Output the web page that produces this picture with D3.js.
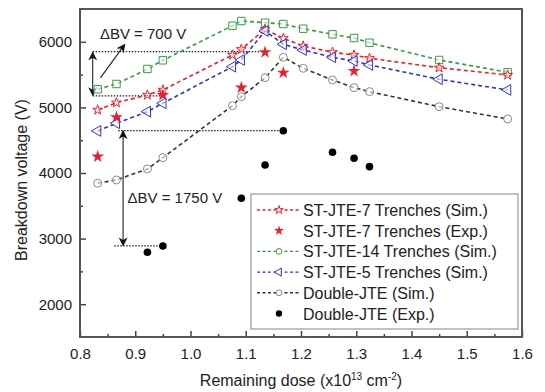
<!DOCTYPE html>
<html lang="en">
<head>
    <meta charset="UTF-8">
    <title>Breakdown voltage</title>
    <script src="https://d3js.org/d3.v7.min.js"></script>
    <style>
        html, body {
            margin: 0;
            background: #fff;
        }
        text {
            font-family: "Liberation Sans", Arial, sans-serif;
            fill: #222;
        }
    </style>
</head>
<body>
<div id="vis"></div>
<script>
// remaining dose (x1e13 cm^-2) of the simulated points
var doseSim = [0.832, 0.866, 0.922, 0.950, 1.076, 1.092, 1.135, 1.168, 1.204, 1.257, 1.296, 1.324, 1.450, 1.574];
var st7Sim = [4961, 5072, 5189, 5266, 5799, 5886, 6191, 6053, 5936, 5840, 5799, 5749, 5605, 5494];
var st14Sim = [5276, 5357, 5586, 5718, 6245, 6317, 6291, 6271, 6200, 6114, 6058, 5986, 5723, 5535];
var st5Sim = [4641, 4758, 4935, 5063, 5621, 5723, 6165, 5962, 5875, 5764, 5708, 5647, 5429, 5266];
var djteSim = [3844, 3894, 4062, 4234, 5026, 5163, 5453, 5764, 5596, 5418, 5301, 5240, 5011, 4824];

var st7ExpDose = [0.832, 0.866, 0.950, 1.092, 1.135, 1.168, 1.296];
var st7Exp = [4249, 4850, 5189, 5301, 5840, 5529, 5555];
var djteExpDose = [0.922, 0.950, 1.092, 1.135, 1.168, 1.257, 1.296, 1.324];
var djteExp = [2792, 2888, 3615, 4123, 4645, 4316, 4225, 4097];

var xTicks = [0.8, 0.9, 1.0, 1.1, 1.2, 1.3, 1.4, 1.5, 1.6];
var yTicks = [2000, 3000, 4000, 5000, 6000];

var width = 545, height = 392;
var margin = {top: 9, right: 23, bottom: 55, left: 80};
var w = width - margin.left - margin.right;
var h = height - margin.top - margin.bottom;

var svg = d3.select('#vis')
    .append('svg')
    .attr('width', width)
    .attr('height', height);

var g = svg.append('g')
    .attr('transform', 'translate(' + margin.left + ',' + margin.top + ')');

var x = d3.scaleLinear().domain([0.8, 1.6]).range([0, w]);
var y = d3.scaleLinear().domain([1500, 6500]).range([h, 0]);

var red = '#e8202a', green = '#3c9a45', blue = '#2c34d0', black = '#333', grey = '#8a8a8a';

// axes, ticks pointing inward
var xMinor = d3.range(0.85, 1.6, 0.1);
var yMinor = d3.range(2500, 6500, 1000);

g.append('g')
    .attr('transform', 'translate(0,' + h + ')')
    .call(d3.axisBottom(x).tickValues(xMinor).tickSize(-3).tickFormat(''));
g.append('g')
    .attr('class', 'x axis')
    .attr('transform', 'translate(0,' + h + ')')
    .call(d3.axisBottom(x).tickValues(xTicks).tickSize(-6).tickPadding(11).tickFormat(d3.format('.1f')));
g.append('g')
    .call(d3.axisLeft(y).tickValues(yMinor).tickSize(-3).tickFormat(''));
g.append('g')
    .attr('class', 'y axis')
    .call(d3.axisLeft(y).tickValues(yTicks).tickSize(-6).tickPadding(8).tickFormat(d3.format('d')));

g.selectAll('.domain').remove();
g.selectAll('.tick line').attr('stroke', '#444').attr('stroke-width', 1.5);
g.selectAll('.tick text').style('font-size', '15px').attr('fill', '#222');

// frame
g.append('rect')
    .attr('width', w)
    .attr('height', h)
    .attr('fill', 'none')
    .attr('stroke', '#555')
    .attr('stroke-width', 2);

// axis titles
var xt = svg.append('text')
    .attr('x', margin.left + w / 2)
    .attr('y', 386)
    .attr('text-anchor', 'middle')
    .style('font-size', '16px');
xt.append('tspan').text('Remaining dose (x10');
xt.append('tspan').attr('dy', -6).style('font-size', '10px').text('13');
xt.append('tspan').attr('dy', 6).text(' cm');
xt.append('tspan').attr('dy', -6).style('font-size', '10px').text('-2');
xt.append('tspan').attr('dy', 6).text(')');

svg.append('text')
    .attr('transform', 'translate(27,' + 180 + ') rotate(-90)')
    .attr('text-anchor', 'middle')
    .style('font-size', '16px')
    .text('Breakdown voltage (V)');

// annotations
svg.append('defs').append('marker')
    .attr('id', 'arrow')
    .attr('viewBox', '0 0 10 10')
    .attr('refX', 9).attr('refY', 5)
    .attr('markerWidth', 9).attr('markerHeight', 9)
    .attr('markerUnits', 'userSpaceOnUse')
    .attr('orient', 'auto-start-reverse')
    .append('path')
    .attr('d', 'M0,0 L10,5 L0,10 L3,5 Z')
    .attr('fill', '#111');

var ann = g.append('g');
function dotted(x0, x1, v) {
    ann.append('line')
        .attr('x1', x(x0)).attr('x2', x(x1))
        .attr('y1', y(v)).attr('y2', y(v))
        .attr('stroke', '#222').attr('stroke-width', 1.2)
        .attr('stroke-dasharray', '1.5,1.5');
}
function arrow(x0, v0, x1, v1, both) {
    var l = ann.append('line')
        .attr('x1', x(x0)).attr('y1', y(v0))
        .attr('x2', x(x1)).attr('y2', y(v1))
        .attr('stroke', '#222').attr('stroke-width', 1.1)
        .attr('marker-end', 'url(#arrow)');
    if (both) l.attr('marker-start', 'url(#arrow)');
}
dotted(0.823, 1.135, 5850);
dotted(0.823, 0.950, 5175);
arrow(0.823, 5840, 0.823, 5185, true);
arrow(0.837, 5450, 0.881, 5960, false);
ann.append('text')
    .attr('x', x(0.836)).attr('y', y(6050))
    .style('font-size', '15px')
    .text('\u0394BV = 700 V');

dotted(0.869, 1.168, 4645);
dotted(0.862, 0.950, 2888);
arrow(0.878, 4640, 0.878, 2895, true);
ann.append('text')
    .attr('x', x(0.886)).attr('y', y(3540))
    .style('font-size', '15px')
    .text('\u0394BV = 1750 V');

// series
function sym(type, size) { return d3.symbol().type(type).size(size); }

var series = [
    {vals: st14Sim, color: green, sym: sym(d3.symbolSquare, 55), rot: 0},
    {vals: st7Sim, color: red, sym: sym(d3.symbolStar, 30), rot: 0},
    {vals: st5Sim, color: blue, sym: sym(d3.symbolTriangle, 50), rot: -90},
    {vals: djteSim, color: grey, line: black, sym: sym(d3.symbolCircle, 50), rot: 0}
];

var line = d3.line()
    .x(function(d) { return x(d[0]); })
    .y(function(d) { return y(d[1]); });

series.forEach(function(s) {
    var pts = doseSim.map(function(d, i) { return [d, s.vals[i]]; });
    g.append('path')
        .datum(pts)
        .attr('d', line)
        .attr('fill', 'none')
        .attr('stroke', s.line || s.color)
        .attr('stroke-width', 1.6)
        .attr('stroke-dasharray', '4,3');
    g.selectAll(null)
        .data(pts)
        .enter()
        .append('path')
        .attr('d', s.sym)
        .attr('transform', function(d) {
            return 'translate(' + x(d[0]) + ',' + y(d[1]) + ') rotate(' + s.rot + ')';
        })
        .attr('fill', '#fff')
        .attr('fill-opacity', 0.6)
        .attr('stroke', s.color)
        .attr('stroke-width', 1);
});

g.selectAll('.st7exp')
    .data(st7ExpDose)
    .enter()
    .append('path')
    .attr('class', 'st7exp')
    .attr('d', sym(d3.symbolStar, 50))
    .attr('transform', function(d, i) { return 'translate(' + x(d) + ',' + y(st7Exp[i]) + ')'; })
    .attr('fill', red);

g.selectAll('.djexp')
    .data(djteExpDose)
    .enter()
    .append('circle')
    .attr('class', 'djexp')
    .attr('cx', function(d) { return x(d); })
    .attr('cy', function(d, i) { return y(djteExp[i]); })
    .attr('r', 3.8)
    .attr('fill', '#000');

// legend
var legend = [
    {name: 'ST-JTE-7 Trenches (Sim.)', color: red, sym: sym(d3.symbolStar, 22), dash: true, open: true},
    {name: 'ST-JTE-7 Trenches (Exp.)', color: red, sym: sym(d3.symbolStar, 30), dash: false, open: false},
    {name: 'ST-JTE-14 Trenches (Sim.)', color: green, sym: sym(d3.symbolCircle, 26), dash: true, open: true},
    {name: 'ST-JTE-5 Trenches (Sim.)', color: blue, sym: sym(d3.symbolTriangle, 28), rot: -90, dash: true, open: true},
    {name: 'Double-JTE (Sim.)', color: black, mcolor: grey, sym: sym(d3.symbolCircle, 26), dash: true, open: true},
    {name: 'Double-JTE (Exp.)', color: '#000', sym: sym(d3.symbolCircle, 32), dash: false, open: false}
];

var lg = svg.append('g').attr('transform', 'translate(251,194)');
lg.append('rect')
    .attr('width', 267)
    .attr('height', 135)
    .attr('fill', '#fff')
    .attr('stroke', '#999')
    .attr('stroke-width', 1.2);

var rows = lg.selectAll('.row')
    .data(legend)
    .enter()
    .append('g')
    .attr('transform', function(d, i) { return 'translate(0,' + (16 + i * 20.7) + ')'; });

rows.filter(function(d) { return d.dash; })
    .append('line')
    .attr('x1', 6).attr('x2', 48)
    .attr('stroke', function(d) { return d.color; })
    .attr('stroke-width', 1.4)
    .attr('stroke-dasharray', '3,2.5');

rows.append('path')
    .attr('d', function(d) { return d.sym(); })
    .attr('transform', function(d) { return 'translate(28,0) rotate(' + (d.rot || 0) + ')'; })
    .attr('fill', function(d) { return d.open ? '#fff' : d.color; })
    .attr('stroke', function(d) { return d.open ? (d.mcolor || d.color) : 'none'; })
    .attr('stroke-width', 1);

rows.append('text')
    .attr('x', 52)
    .attr('y', 6)
    .style('font-size', '16px')
    .text(function(d) { return d.name; });
</script>
</body>
</html>
